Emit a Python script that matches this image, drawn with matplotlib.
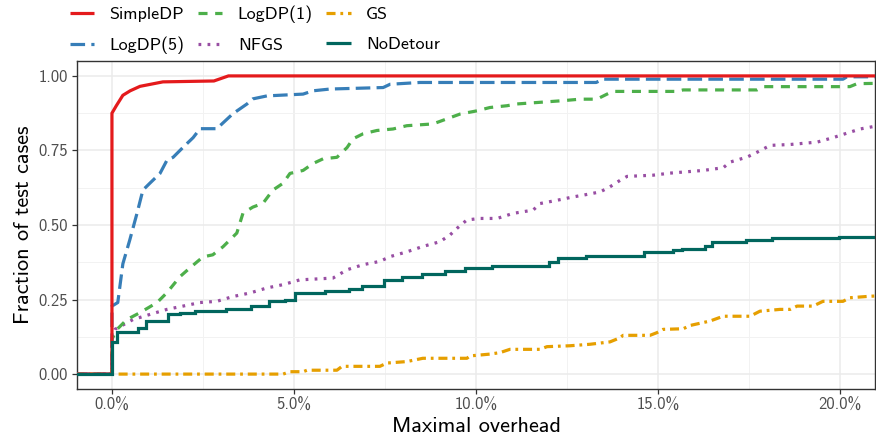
import matplotlib
matplotlib.use("Agg")
import matplotlib.pyplot as plt
from matplotlib.ticker import FuncFormatter, MultipleLocator
from matplotlib.lines import Line2D

plt.rcParams['font.family'] = ['cmss10', 'DejaVu Sans']
plt.rcParams['axes.unicode_minus'] = False
plt.rcParams['lines.scale_dashes'] = False

# ---------------- data (x in percent overhead, y fraction of test cases)
simpledp_x = [-1.0, 0.0, 0.0, 0.12, 0.3, 0.5, 0.77, 1.4, 2.8, 3.2, 21.0]
simpledp_y = [0.0, 0.0, 0.875, 0.90, 0.935, 0.95, 0.965, 0.98, 0.983, 1.0, 1.0]

logdp5_x = [-1.0, 0.0, 0.0, 0.16, 0.30, 0.49, 0.69, 0.85, 1.04, 1.32, 1.51, 1.68, 1.95,
            2.23, 2.42, 2.88, 3.32, 3.71, 3.87, 4.26, 5.25, 5.52, 5.99, 7.45, 7.64,
            8.46, 13.3, 13.49, 20.08, 20.19, 21.0]
logdp5_y = [0.0, 0.0, 0.228, 0.24, 0.37, 0.45, 0.54, 0.617, 0.64, 0.673, 0.717, 0.727, 0.76,
            0.793, 0.823, 0.823, 0.873, 0.906, 0.923, 0.933, 0.939, 0.95, 0.956, 0.961, 0.972,
            0.978, 0.978, 0.989, 0.989, 0.997, 0.997]

logdp1_x = [-1.0, 0.0, 0.0, 0.14, 0.41, 0.77, 1.24, 1.51, 1.87, 2.14, 2.50, 2.77, 3.05, 3.43,
            3.60, 3.87, 4.15, 4.42, 4.70, 4.89, 5.25, 5.52, 5.80, 6.18, 6.46, 6.62, 6.90,
            7.28, 7.72, 8.10, 8.82, 9.20, 9.56, 10.03, 10.38, 10.85, 11.13, 12.39, 12.86,
            13.32, 13.60, 13.76, 15.52, 15.69, 17.72, 17.88, 20.27, 20.47, 21.0]
logdp1_y = [0.0, 0.0, 0.117, 0.15, 0.183, 0.206, 0.24, 0.273, 0.327, 0.356, 0.393, 0.40, 0.427,
            0.473, 0.54, 0.56, 0.573, 0.617, 0.64, 0.673, 0.683, 0.706, 0.722, 0.727, 0.76,
            0.789, 0.806, 0.817, 0.822, 0.833, 0.839, 0.856, 0.872, 0.883, 0.894, 0.90, 0.906,
            0.917, 0.922, 0.922, 0.939, 0.948, 0.948, 0.953, 0.953, 0.964, 0.964, 0.974, 0.975]

nfgs_x = [-1.0, 0.0, 0.0, 0.08, 0.58, 1.04, 1.51, 1.95, 2.42, 2.88, 3.32, 3.79, 4.26, 4.70,
          5.16, 6.07, 6.46, 6.90, 7.36, 7.64, 8.10, 8.54, 9.01, 9.29, 9.48, 9.75, 10.11,
          10.58, 11.02, 11.57, 11.76, 12.23, 12.66, 12.94, 13.41, 13.68, 13.96, 14.15, 14.86,
          15.33, 16.24, 16.79, 16.98, 17.45, 17.72, 18.08, 18.63, 19.37, 19.81, 20.19, 20.55,
          21.0]
nfgs_y = [0.0, 0.0, 0.12, 0.15, 0.183, 0.20, 0.217, 0.228, 0.24, 0.244, 0.26, 0.272, 0.289, 0.30,
          0.316, 0.322, 0.35, 0.367, 0.378, 0.394, 0.41, 0.428, 0.444, 0.467, 0.489, 0.517, 0.522,
          0.522, 0.539, 0.55, 0.572, 0.583, 0.594, 0.60, 0.611, 0.628, 0.65, 0.663, 0.667,
          0.674, 0.683, 0.692, 0.711, 0.728, 0.744, 0.767, 0.77, 0.778, 0.793, 0.808, 0.822,
          0.832]

gs_x = [-1.0, 4.70, 4.89, 5.25, 5.36, 6.18, 6.32, 7.36, 7.55, 8.10, 8.54, 9.75, 9.84, 10.38,
        10.66, 10.93, 11.76, 11.95, 12.58, 13.13, 13.68, 13.96, 14.04, 14.78, 14.97, 15.14,
        15.69, 15.88, 16.43, 16.79, 17.53, 17.80, 18.35, 18.63, 18.82, 19.26, 19.53, 20.08,
        20.27, 20.82, 21.0]
gs_y = [0.0, 0.0, 0.008, 0.008, 0.013, 0.013, 0.026, 0.026, 0.037, 0.042, 0.053, 0.053, 0.061,
        0.067, 0.072, 0.083, 0.083, 0.092, 0.095, 0.10, 0.108, 0.122, 0.13, 0.13, 0.139, 0.15,
        0.152, 0.163, 0.178, 0.194, 0.194, 0.211, 0.217, 0.217, 0.228, 0.228, 0.244, 0.244,
        0.256, 0.261, 0.262]

# step function: level starts at x
nodetour_x = [-1.0, 0.0, 0.14, 0.71, 0.93, 1.54, 1.87, 2.28, 3.13, 3.82, 4.31, 4.75, 5.03,
              5.85, 6.51, 6.87, 7.47, 7.97, 8.52, 9.15, 9.70, 10.44, 12.0, 12.25, 13.02,
              14.62, 15.41, 15.66, 16.29, 16.48, 17.42, 18.13, 19.97, 21.0]
nodetour_y = [0.0, 0.107, 0.14, 0.156, 0.178, 0.20, 0.206, 0.211, 0.217, 0.228, 0.244, 0.25,
              0.272, 0.278, 0.287, 0.297, 0.317, 0.326, 0.337, 0.347, 0.356, 0.361, 0.375,
              0.39, 0.396, 0.41, 0.417, 0.42, 0.428, 0.444, 0.45, 0.456, 0.461, 0.461]

x_ticks = [0, 5, 10, 15, 20]
y_ticks = [0.0, 0.25, 0.5, 0.75, 1.0]

# ---------------- styling
colors = {
    'SimpleDP': '#E41A1C',
    'LogDP(5)': '#377EB8',
    'LogDP(1)': '#4DAF4A',
    'NFGS': '#984EA3',
    'GS': '#E69F00',
    'NoDetour': '#01665E',
}
lw = 2.3
dashes = {
    'SimpleDP': None,
    'LogDP(5)': (10.5, 4.5),
    'LogDP(1)': (6.5, 5.5),
    'NFGS': (2.0, 4.5),
    'GS': (6.5, 3.5, 2.0, 3.5),
    'NoDetour': None,
}

fig = plt.figure(figsize=(8.76, 4.38), dpi=100)
ax = fig.add_axes([77/876, 1-389/438, (875-77)/876, (389-61)/438])

ax.set_xlim(-0.96, 20.96)
ax.set_ylim(-0.05, 1.05)

ax.xaxis.set_minor_locator(MultipleLocator(2.5))
ax.yaxis.set_minor_locator(MultipleLocator(0.125))
ax.set_xticks(x_ticks)
ax.set_yticks(y_ticks)
ax.xaxis.set_major_formatter(FuncFormatter(lambda v, p: f"{v:.1f}%"))
ax.yaxis.set_major_formatter(FuncFormatter(lambda v, p: f"{v:.2f}"))

ax.grid(which='major', color='#EBEBEB', lw=1.1, zorder=0)
ax.grid(which='minor', color='#F2F2F2', lw=0.7, zorder=0)
ax.set_axisbelow(True)
for s in ax.spines.values():
    s.set_color('#333333')
    s.set_linewidth(1.0)
ax.tick_params(which='major', direction='out', length=3.4, width=0.9, color='#333333',
               labelsize=12, labelcolor='#4D4D4D', pad=3)
ax.tick_params(which='minor', length=0)

series = [
    ('GS', gs_x, gs_y, False),
    ('NFGS', nfgs_x, nfgs_y, False),
    ('LogDP(1)', logdp1_x, logdp1_y, False),
    ('LogDP(5)', logdp5_x, logdp5_y, False),
    ('SimpleDP', simpledp_x, simpledp_y, False),
    ('NoDetour', nodetour_x, nodetour_y, True),
]
handles = {}
for name, xs, ys, step in series:
    kw = dict(color=colors[name], lw=lw, solid_capstyle='butt', dash_capstyle='butt',
              solid_joinstyle='miter', zorder=3)
    if step:
        kw['drawstyle'] = 'steps-post'
    ln, = ax.plot(xs, ys, **kw)
    if dashes[name] is not None:
        ln.set_dashes(dashes[name])
    h = Line2D([], [], color=colors[name], lw=lw, solid_capstyle='butt', dash_capstyle='butt')
    if dashes[name] is not None:
        h.set_dashes(dashes[name])
    handles[name] = h

ax.set_xlabel('Maximal overhead', fontsize=16, labelpad=3)
ax.set_ylabel('Fraction of test cases', fontsize=16, labelpad=4)

order = ['SimpleDP', 'LogDP(5)', 'LogDP(1)', 'NFGS', 'GS', 'NoDetour']
leg = fig.legend([handles[n] for n in order], order, ncol=3, loc='upper left',
                 bbox_to_anchor=(68/876, 1 - 4/438), frameon=False, fontsize=13,
                 handlelength=1.35, handletextpad=0.85, columnspacing=0.75,
                 labelspacing=0.8, borderaxespad=0.0, borderpad=0.1)

fig.savefig('out.png', dpi=100)
